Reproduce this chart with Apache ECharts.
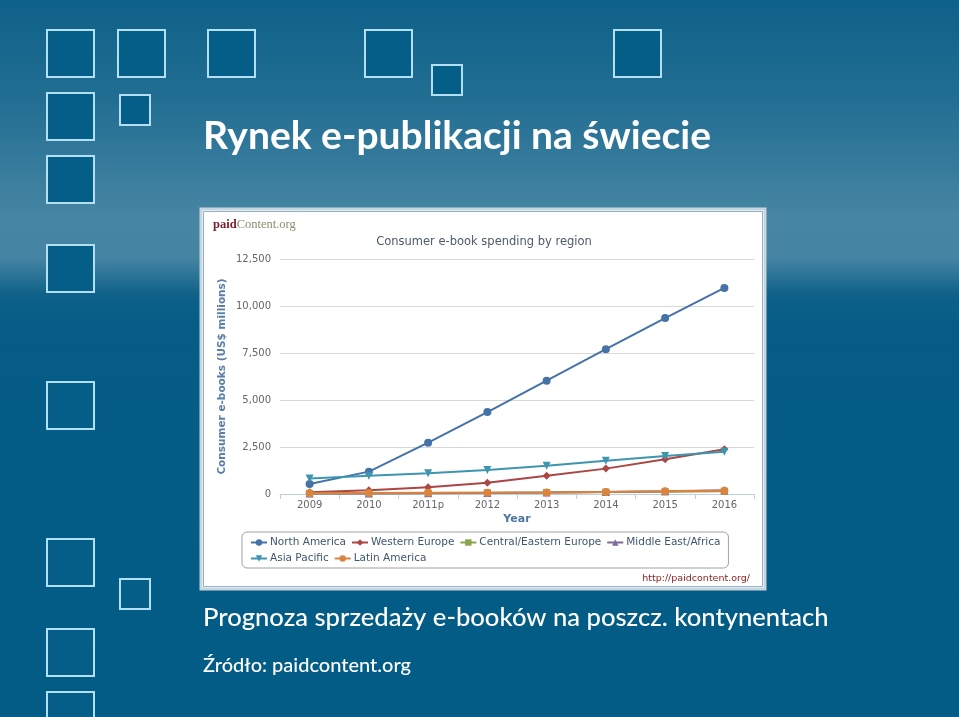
<!DOCTYPE html>
<html>
<head>
<meta charset="utf-8">
<script src="https://cdn.jsdelivr.net/npm/echarts@6/dist/echarts.min.js"></script>
<style>
html,body{margin:0;padding:0;background:#025c85;}
#c{width:959px;height:717px;}
</style>
</head>
<body>
<div id="c"></div>
<script>
var years = ['2009', '2010', '2011p', '2012', '2013', '2014', '2015', '2016'];
var northAmerica = [530, 1190, 2730, 4360, 6030, 7700, 9360, 10960];
var westernEurope = [90, 195, 355, 600, 975, 1350, 1845, 2380];
var centralEasternEurope = [30, 40, 50, 65, 80, 100, 120, 140];
var middleEastAfrica = [20, 30, 40, 55, 75, 100, 140, 200];
var asiaPacific = [830, 975, 1100, 1275, 1505, 1770, 2020, 2250];
var latinAmerica = [40, 50, 60, 70, 85, 110, 140, 170];
var yTicks = [0, 2500, 5000, 7500, 10000, 12500];

var chart = echarts.init(document.getElementById('c'), null, {renderer: 'canvas'});

function sq(x, y, s) {
  return {type: 'rect', z: -8, shape: {x: x, y: y, width: s, height: s},
    style: {fill: '#045e88', stroke: '#b3dff2', lineWidth: 2}};
}

var graphics = [
  {type: 'rect', z: -10, shape: {x: 0, y: 0, width: 959, height: 717},
    style: {fill: new echarts.graphic.LinearGradient(0, 0, 0, 1, [
      {offset: 0, color: '#0e6189'},
      {offset: 0.14, color: '#226e93'},
      {offset: 0.30, color: '#4685a3'},
      {offset: 0.36, color: '#4584a3'},
      {offset: 0.41, color: '#0f6289'},
      {offset: 0.45, color: '#055d87'},
      {offset: 1, color: '#025c85'}
    ])}},
  sq(47, 30, 47), sq(118, 30, 47), sq(208, 30, 47), sq(365, 30, 47), sq(614, 30, 47),
  sq(432, 65, 30),
  sq(47, 93, 47), sq(120, 95, 30),
  sq(47, 156, 47),
  sq(47, 245, 47),
  sq(47, 382, 47),
  sq(47, 539, 47), sq(120, 579, 30),
  sq(47, 629, 47),
  sq(47, 692, 47),
  {type: 'text', z: 10, style: {text: 'Rynek e-publikacji na świecie', x: 203, y: 117,
    fill: '#ffffff', font: 'bold 39px Lato, "DejaVu Sans", sans-serif'}},
  {type: 'text', z: 10, style: {text: 'Prognoza sprzedaży e-booków na poszcz. kontynentach', x: 203, y: 605,
    fill: '#ffffff', font: '500 25.6px Lato, "DejaVu Sans", sans-serif'}},
  {type: 'text', z: 10, style: {text: 'Źródło: paidcontent.org', x: 203, y: 656,
    fill: '#ffffff', font: '500 20px Lato, "DejaVu Sans", sans-serif'}},
  {type: 'rect', z: -5, shape: {x: 201, y: 209, width: 564, height: 380},
    style: {fill: '#ffffff', stroke: '#c9d5dc', lineWidth: 3}},
  {type: 'rect', z: -4, shape: {x: 203.5, y: 211.5, width: 559, height: 375},
    style: {fill: 'none', stroke: '#8fb3c8', lineWidth: 1}},
  {type: 'text', z: 10, style: {text: '{a|paid}{b|Content.org}', x: 213, y: 225,
    textVerticalAlign: 'middle',
    rich: {a: {fill: '#7b1c2c', font: 'bold 12.5px "Liberation Serif", "DejaVu Serif", serif'},
           b: {fill: '#8e8c6e', font: '12.5px "Liberation Serif", "DejaVu Serif", serif'}}}},
  {type: 'text', z: 10, style: {text: 'Consumer e-book spending by region', x: 484, y: 242,
    textAlign: 'center', textVerticalAlign: 'middle', fill: '#4d5a68', font: '11.5px "DejaVu Sans", sans-serif'}},
  {type: 'text', z: 10, style: {text: 'http://paidcontent.org/', x: 750, y: 579,
    textAlign: 'right', textVerticalAlign: 'middle', fill: '#8b1c1c', font: '9.5px "DejaVu Sans", sans-serif'}}
];

function mk(name, data, color, symbol, size, rot) {
  return {
    name: name, type: 'line', data: data, symbol: symbol, symbolSize: size,
    symbolRotate: rot || 0, showSymbol: true,
    lineStyle: {width: 2, color: color},
    itemStyle: {color: color},
    emphasis: {disabled: true}, animation: false
  };
}

chart.setOption({
  animation: false,
  graphic: graphics,
  grid: {left: 280, right: 205, top: 259, bottom: 223, containLabel: false},
  legend: {
    left: 242, top: 532, width: 495,
    padding: [5, 8, 4, 8], itemGap: 5, itemWidth: 16, itemHeight: 8,
    borderColor: '#a0a0a0', borderWidth: 1, borderRadius: 5,
    textStyle: {color: '#3e576f', fontSize: 10.5, lineHeight: 9, fontFamily: '"DejaVu Sans", sans-serif', padding: [0, 0, 0, -2]},
    data: ['North America', 'Western Europe', 'Central/Eastern Europe', 'Middle East/Africa', 'Asia Pacific', 'Latin America']
  },
  xAxis: {
    type: 'category', data: years, boundaryGap: true,
    name: 'Year', nameLocation: 'middle', nameGap: 20,
    nameTextStyle: {color: '#4d759e', fontWeight: 'bold', fontSize: 11, fontFamily: '"DejaVu Sans", sans-serif'},
    axisLine: {lineStyle: {color: '#c0d0e0'}},
    axisTick: {show: true, length: 5, lineStyle: {color: '#c0d0e0'}},
    axisLabel: {color: '#666666', fontSize: 10, margin: 6, fontFamily: '"DejaVu Sans", sans-serif'}
  },
  yAxis: {
    type: 'value', min: 0, max: 12500, interval: 2500,
    name: 'Consumer e-books (US$ millions)', nameLocation: 'middle', nameGap: 52, nameRotate: 90,
    nameTextStyle: {color: '#5a7ea6', fontWeight: 'bold', fontSize: 10.5, fontFamily: '"DejaVu Sans", sans-serif'},
    axisLine: {show: false}, axisTick: {show: false},
    splitLine: {lineStyle: {color: '#d8d8d8'}},
    axisLabel: {color: '#666666', fontSize: 10, margin: 9, fontFamily: '"DejaVu Sans", sans-serif',
      formatter: function (v) { return v.toLocaleString('en-US'); }}
  },
  series: [
    mk('North America', northAmerica, '#4572A7', 'circle', 8),
    mk('Western Europe', westernEurope, '#AA4643', 'diamond', 8),
    mk('Central/Eastern Europe', centralEasternEurope, '#89A54E', 'rect', 7),
    mk('Middle East/Africa', middleEastAfrica, '#80699B', 'triangle', 8),
    mk('Asia Pacific', asiaPacific, '#3D96AE', 'triangle', 8, 180),
    mk('Latin America', latinAmerica, '#DB843D', 'circle', 8)
  ]
});
</script>
</body>
</html>
